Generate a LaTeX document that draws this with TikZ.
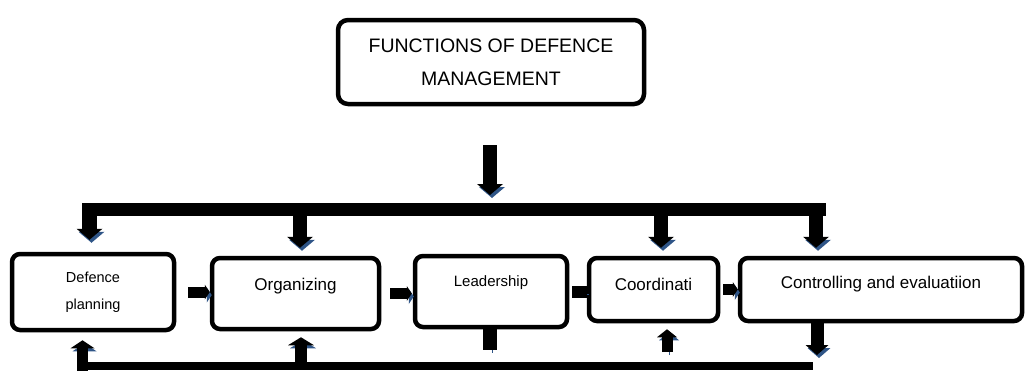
\documentclass[tikz,border=0pt]{standalone}
\usepackage{fontspec}
\setmainfont{Liberation Sans}
\usetikzlibrary{arrows.meta, positioning}
\definecolor{shadowblue}{RGB}{47,85,135}
\tikzset{
  box/.style={draw, line width=4.5pt, rounded corners=8pt, fill=white,
    inner sep=0pt, align=center},
  blueshadow/.style={preaction={draw=shadowblue,
    transform canvas={shift={(2pt,-3pt)}}}},
  downarrow/.style={blueshadow, line width=14pt,
    -{Triangle[width=26pt,length=11pt,line width=0pt]}},
  uparrow/.style={blueshadow, line width=11pt,
    -{Triangle[width=24pt,length=8pt,line width=0pt]}},
  sidearrow/.style={blueshadow, line width=11pt,
    -{Triangle[width=15pt,length=5pt,line width=0pt]}},
  stub/.style={blueshadow, line width=13pt},
}

\begin{document}
\begin{tikzpicture}[x=1pt, y=-1pt]
  \useasboundingbox (0,0) rectangle (1027,370);
  % boxes
  \node[box, rounded corners=10pt, minimum width=306pt, minimum height=84pt,
    font=\fontsize{19.5}{33}\selectfont] at (491,62) (top)
    {FUNCTIONS OF DEFENCE\\MANAGEMENT};
  \node[box, minimum width=162pt, minimum height=76pt,
    font=\fontsize{14.5}{27}\selectfont] at (93,292) (plan)
    {Defence\\planning};
  \node[box, minimum width=167pt, minimum height=71pt,
    text height=12pt, text depth=19pt,
    font=\fontsize{17}{20}\selectfont] at (295.5,293.5) (org) {Organizing};
  \node[box, minimum width=152pt, minimum height=71pt,
    text height=12pt, text depth=23pt,
    font=\fontsize{15}{18}\selectfont] at (491,291.5) (lead) {Leadership};
  \node[box, minimum width=129pt, minimum height=63pt,
    text height=12pt, text depth=11pt,
    font=\fontsize{17}{20}\selectfont] at (653.5,289.5) (coord) {Coordinati};
  \node[box, minimum width=282pt, minimum height=63pt,
    text height=12pt, text depth=15pt,
    font=\fontsize{17}{20}\selectfont] at (881,289.5) (ctrl)
    {Controlling and evaluatiion};

  % top bar and the arrows hanging from it
  \coordinate (barL) at (97,209.5);
  \coordinate (barR) at (826,209.5);
  \coordinate (barM) at (490,209.5);
  \coordinate (d1) at (89.5,203);
  \coordinate (d2) at (300,216);
  \coordinate (d3) at (661,216);
  \coordinate (d4) at (816,216);
  \draw[downarrow, shorten <=39pt, shorten >=14.5pt] (top.south -| barM) -- (barM);
  \draw[downarrow, line width=15pt, shorten >=12pt] (d1) -- (d1 |- plan.north);
  \draw[downarrow, shorten >=8pt] (d2) -- (d2 |- org.north);
  \draw[downarrow, shorten >=8pt] (d3) -- (d3 |- coord.north);
  \draw[downarrow, shorten >=8pt] (d4) -- (d4 |- ctrl.north);
  \draw[line width=13pt] (barL) -- (barR);

  % arrows between the boxes
  \draw[sidearrow, shorten <=12pt] (plan.east) -- (plan.east -| org.west);
  \draw[sidearrow, shorten <=9pt, shorten >=1pt] (org.east) -- (org.east -| lead.west);
  \draw[stub, line width=12pt, shorten <=3pt] (lead.east) -- (lead.east -| coord.west);
  \draw[sidearrow, shorten <=3pt] (coord.east) -- (coord.east -| ctrl.west);

  % bottom bar and its arrows
  \coordinate (bbL) at (87,366);
  \coordinate (bbR) at (813,366);
  \coordinate (u1) at (82.5,372);
  \coordinate (u2) at (301,362);
  \coordinate (u3) at (490,350);
  \coordinate (u4) at (667,352);
  \coordinate (u5) at (817,355);
  \draw[uparrow, shorten >=8pt] (u1) -- (u1 |- plan.south);
  \draw[uparrow, line width=12pt, -{Triangle[width=26pt,length=8pt,line width=0pt]},
    shorten >=6pt] (u2) -- (u2 |- org.south);
  \draw[stub, line width=14pt] (lead.south -| u3) -- (u3);
  \draw[uparrow, -{Triangle[width=20pt,length=8pt,line width=0pt]},
    shorten >=6pt] (u4) -- (u4 |- coord.south);
  \draw[uparrow, line width=13pt, -{Triangle[width=23pt,length=10pt,line width=0pt]}]
    (ctrl.south -| u5) -- (u5);
  \draw[line width=8pt] (bbL) -- (bbR);
\end{tikzpicture}
\end{document}
